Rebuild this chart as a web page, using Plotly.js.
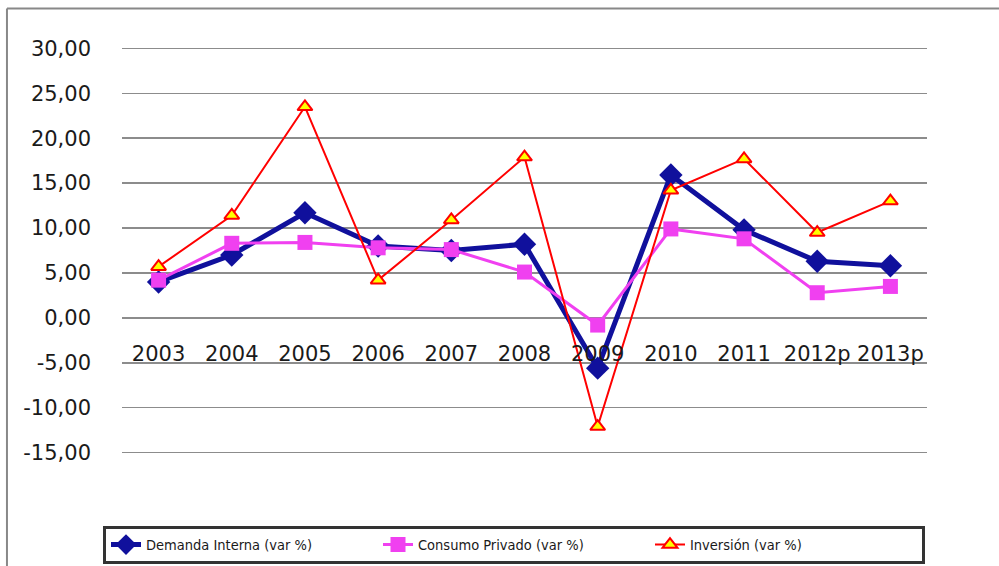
<!DOCTYPE html>
<html>
<head>
<meta charset="utf-8">
<script src="https://cdn.plot.ly/plotly-3.0.1.min.js"></script>
<style>html,body{margin:0;padding:0;background:#fff;}#chart{width:999px;height:566px;}</style>
</head>
<body>
<div id="chart"></div>
<script>
const years = ["2003","2004","2005","2006","2007","2008","2009","2010","2011","2012p","2013p"];
const demandaInterna = [4.0, 7.0, 11.7, 8.0, 7.5, 8.2, -5.6, 15.9, 9.8, 6.3, 5.8];
const consumoPrivado = [4.2, 8.3, 8.4, 7.8, 7.6, 5.1, -0.8, 9.9, 8.8, 2.8, 3.5];
const inversion = [5.7, 11.4, 23.5, 4.2, 10.9, 17.9, -12.1, 14.2, 17.7, 9.5, 13.0];
const seriesNames = ["Demanda Interna (var %)", "Consumo Privado (var %)", "Inversión (var %)"];
const yTicks = [30, 25, 20, 15, 10, 5, 0, -5, -10, -15];
const yTickText = yTicks.map(v => v.toFixed(2).replace(".", ","));

const traces = [
  {x: years, y: demandaInterna, name: seriesNames[0], type: "scatter", mode: "lines+markers",
   line: {color: "#10109C", width: 5}, marker: {symbol: "diamond", size: 18, color: "#10109C"}},
  {x: years, y: consumoPrivado, name: seriesNames[1], type: "scatter", mode: "lines+markers",
   line: {color: "#F040F0", width: 3}, marker: {symbol: "square", size: 15, color: "#F040F0"}},
  {x: years, y: inversion, name: seriesNames[2], type: "scatter", mode: "lines+markers",
   line: {color: "#FF0000", width: 2}, marker: {symbol: "triangle-up", size: 13, color: "#FFFF00", line: {color: "#FF0000", width: 2}}}
];

const yMin = -15.6, yMax = 30.6;
const layout = {
  width: 999, height: 566,
  margin: {l: 122, r: 72, t: 42.6, b: 107.6, autoexpand: false},
  paper_bgcolor: "#fff", plot_bgcolor: "#fff",
  font: {family: "DejaVu Sans, sans-serif", color: "#1a1a1a"},
  showlegend: true,
  xaxis: {type: "category", range: [-0.5, 10.5], anchor: "free", position: (-2.4 - yMin) / (yMax - yMin),
          showgrid: false, zeroline: false, showline: false, ticks: "",
          tickfont: {size: 21, family: "DejaVu Sans, sans-serif", color: "#1a1a1a"}},
  yaxis: {range: [yMin, yMax], tickvals: yTicks, ticktext: yTickText, showgrid: true,
          gridcolor: "#8c8c8c", gridwidth: 1.5, zeroline: false, showline: false, ticks: "",
          ticklabelstandoff: 30,
          tickfont: {size: 21, family: "DejaVu Sans, sans-serif", color: "#1a1a1a"}},
  legend: {orientation: "h", x: -0.0236, xanchor: "left", y: -0.163, yanchor: "top",
           bgcolor: "#fff", bordercolor: "#333", borderwidth: 3,
           entrywidth: 227, entrywidthmode: "pixels",
           font: {size: 14.5, family: "DejaVu Sans Condensed, DejaVu Sans, sans-serif", color: "#1a1a1a"}},
  shapes: [
    {type: "line", xref: "paper", yref: "paper", x0: -0.1429, x1: -0.1429, y0: 1.0832, y1: -0.35, line: {color: "#888", width: 2}},
    {type: "line", xref: "paper", yref: "paper", x0: -0.1429, x1: 1.1, y0: 1.0832, y1: 1.0832, line: {color: "#888", width: 2}}
  ]
};

Plotly.newPlot("chart", traces, layout, {displayModeBar: false, staticPlot: true});
</script>
</body>
</html>
